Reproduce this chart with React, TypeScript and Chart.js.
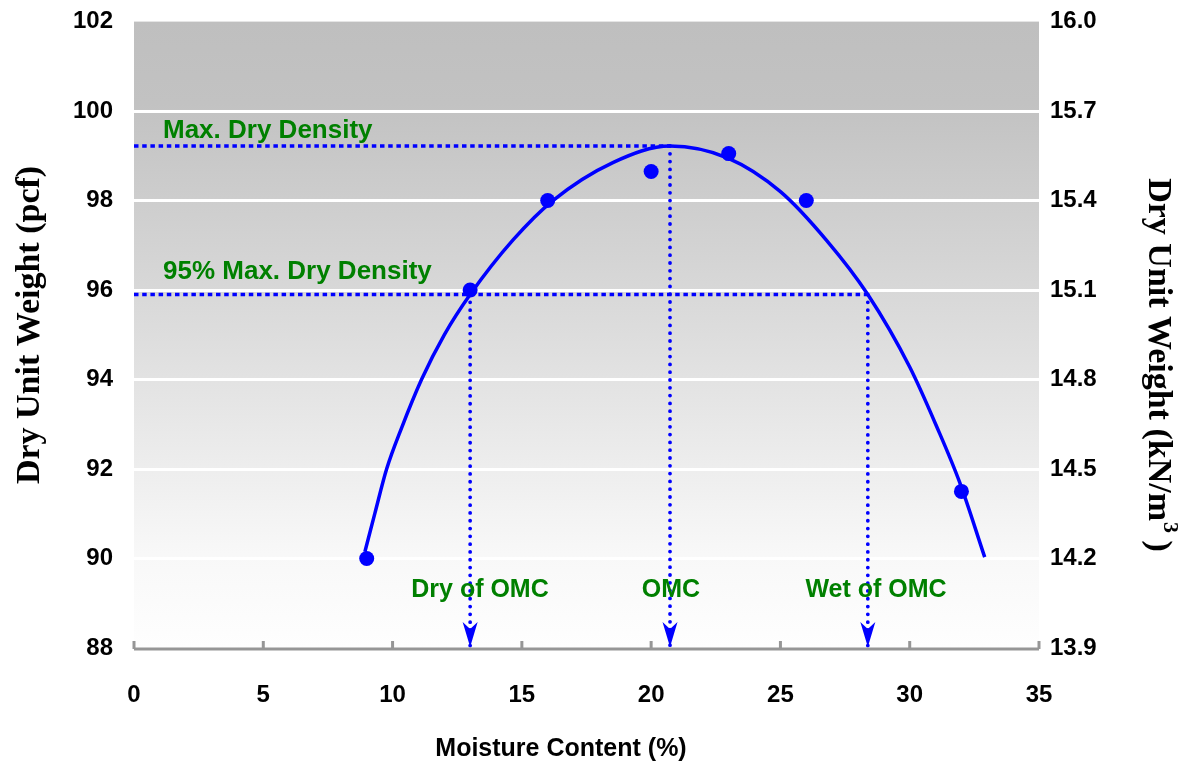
import React, { useEffect, useRef } from "react";
import { Chart, registerables } from "chart.js";
Chart.register(...registerables);

// Measured compaction test points
const moisture = [9, 13, 16, 20, 23, 26, 32];
const dryUnitWeight = [90.0, 96.0, 98.0, 98.65, 99.05, 98.0, 91.5];

// Fitted compaction curve
const fitMoisture = [8.93, 9.32, 9.77, 10.35, 11.12, 12.0, 13.0, 14.66, 16.2, 18.52, 20.73, 22.97, 25.0, 26.8, 28.38, 30.0, 31.05, 31.94, 32.9];
const fitWeight = [90.15, 91.02, 92.0, 92.92, 94.0, 95.0, 95.9, 97.12, 98.0, 98.85, 99.22, 98.95, 98.2, 97.1, 95.9, 94.28, 92.94, 91.69, 90.03];

// Reference values
const maxDryDensity = 99.22;
const omc = 20.73;
const density95 = 95.9;
const dryOfOmc = 13.0;
const wetOfOmc = 28.38;

// Axes
const xTicks = [0, 5, 10, 15, 20, 25, 30, 35];
const pcfTicks = [88, 90, 92, 94, 96, 98, 100, 102];
const knTicks = [13.9, 14.2, 14.5, 14.8, 15.1, 15.4, 15.7, 16.0];

const xTitle = "Moisture Content (%)";
const leftTitle = "Dry Unit Weight (pcf)";
const rightTitleMain = "Dry Unit Weight (kN/m";
const rightTitleSup = "3";
const rightTitleEnd = " )";

const GREEN = "#008000";
const BLUE = "#0000ff";
const SANS = '"Liberation Sans", Arial, sans-serif';
const SERIF = '"Liberation Serif", "Times New Roman", serif';

const bgPlugin = {
  id: "bg",
  beforeDraw(chart: any) {
    const { ctx, chartArea: a } = chart;
    const g = ctx.createLinearGradient(0, a.top, 0, a.bottom);
    g.addColorStop(0, "#bfbfbf");
    g.addColorStop(0.13, "#c2c2c2");
    g.addColorStop(0.5, "#dddddd");
    g.addColorStop(0.85, "#f8f8f8");
    g.addColorStop(1, "#fefefe");
    ctx.save();
    ctx.fillStyle = g;
    ctx.fillRect(a.left, a.top, a.right - a.left, a.bottom - a.top);
    ctx.restore();
  },
};

const decorPlugin = {
  id: "decor",
  afterDraw(chart: any) {
    const { ctx, chartArea: a } = chart;
    const xs = chart.scales.x;
    const ys = chart.scales.y;
    ctx.save();
    // x axis line and upward ticks
    ctx.strokeStyle = "#969696";
    ctx.lineWidth = 3;
    const by = ys.getPixelForValue(pcfTicks[0]) + 1;
    ctx.beginPath();
    ctx.moveTo(a.left, by);
    ctx.lineTo(a.right, by);
    ctx.stroke();
    xTicks.forEach((t) => {
      const px = xs.getPixelForValue(t);
      ctx.beginPath();
      ctx.moveTo(px, by);
      ctx.lineTo(px, by - 8);
      ctx.stroke();
    });
    // arrowheads
    ctx.fillStyle = BLUE;
    [dryOfOmc, omc, wetOfOmc].forEach((v) => {
      const px = xs.getPixelForValue(v);
      const tip = ys.getPixelForValue(pcfTicks[0]) - 1;
      ctx.beginPath();
      ctx.moveTo(px, tip);
      ctx.lineTo(px - 7.5, tip - 25);
      ctx.lineTo(px, tip - 18);
      ctx.lineTo(px + 7.5, tip - 25);
      ctx.closePath();
      ctx.fill();
    });
    // green annotations
    ctx.fillStyle = GREEN;
    ctx.font = `bold 26px ${SANS}`;
    ctx.textBaseline = "alphabetic";
    ctx.textAlign = "left";
    ctx.fillText("Max. Dry Density", 163, 138);
    ctx.fillText("95% Max. Dry Density", 163, 279);
    ctx.font = `bold 25px ${SANS}`;
    ctx.textAlign = "center";
    ctx.fillText("Dry of OMC", 480, 597);
    ctx.fillText("OMC", 671, 597);
    ctx.fillText("Wet of OMC", 876, 597);
    // x title
    ctx.fillStyle = "#000";
    ctx.font = `bold 25px ${SANS}`;
    ctx.textAlign = "center";
    ctx.textBaseline = "middle";
    ctx.fillText(xTitle, 561, 749);
    // left title
    ctx.save();
    ctx.translate(30, 325);
    ctx.rotate(-Math.PI / 2);
    ctx.font = `bold 34px ${SERIF}`;
    ctx.textAlign = "center";
    ctx.textBaseline = "middle";
    ctx.fillText(leftTitle, 0, 0);
    ctx.restore();
    // right title with superscript
    ctx.save();
    ctx.translate(1158, 365);
    ctx.rotate(Math.PI / 2);
    ctx.textBaseline = "middle";
    ctx.textAlign = "left";
    const mainFont = `bold 34px ${SERIF}`;
    const supFont = `bold 22px ${SERIF}`;
    ctx.font = mainFont;
    const w1 = ctx.measureText(rightTitleMain).width;
    const w3 = ctx.measureText(rightTitleEnd).width;
    ctx.font = supFont;
    const w2 = ctx.measureText(rightTitleSup).width;
    const x0 = -(w1 + w2 + w3) / 2;
    ctx.font = mainFont;
    ctx.fillText(rightTitleMain, x0, 0);
    ctx.font = supFont;
    ctx.fillText(rightTitleSup, x0 + w1 + 1, -12);
    ctx.font = mainFont;
    ctx.fillText(rightTitleEnd, x0 + w1 + w2, 0);
    ctx.restore();
    ctx.restore();
  },
};

export default function App() {
  const ref = useRef<HTMLCanvasElement>(null);
  useEffect(() => {
    if (!ref.current) return;
    const tickFont = { family: SANS, size: 24, weight: "bold" as const };
    const yTickFont = { family: SANS, size: 24, weight: "bold" as const, lineHeight: 0.05 };
    const chart = new Chart(ref.current, {
      type: "scatter",
      data: {
        datasets: [
          {
            label: "points",
            data: moisture.map((m, i) => ({ x: m, y: dryUnitWeight[i] })),
            pointRadius: 7.5,
            pointBackgroundColor: BLUE,
            pointBorderWidth: 0,
            showLine: false,
            order: 0,
          },
          {
            label: "fit",
            data: fitMoisture.map((m, i) => ({ x: m, y: fitWeight[i] })),
            showLine: true,
            pointRadius: 0,
            borderColor: BLUE,
            borderWidth: 3.5,
            cubicInterpolationMode: "monotone",
            order: 1,
          },
          {
            label: "maxLine",
            data: [{ x: 0, y: maxDryDensity }, { x: omc, y: maxDryDensity }],
            showLine: true,
            pointRadius: 0,
            borderColor: BLUE,
            borderWidth: 3.5,
            borderDash: [4.5, 3.7],
            order: 2,
          },
          {
            label: "line95",
            data: [{ x: 0, y: density95 }, { x: wetOfOmc, y: density95 }],
            showLine: true,
            pointRadius: 0,
            borderColor: BLUE,
            borderWidth: 3.5,
            borderDash: [4.5, 3.7],
            order: 2,
          },
          ...[
            { v: omc, top: maxDryDensity },
            { v: dryOfOmc, top: density95 },
            { v: wetOfOmc, top: density95 },
          ].map((d) => ({
            label: "vert",
            data: [{ x: d.v, y: d.top }, { x: d.v, y: pcfTicks[0] }],
            showLine: true,
            pointRadius: 0,
            borderColor: BLUE,
            borderWidth: 3.8,
            borderCapStyle: "round" as const,
            borderDash: [0, 7.8],
            order: 2,
          })),
        ],
      },
      options: {
        responsive: false,
        animation: false,
        layout: { padding: { top: 0, left: 0, right: 0, bottom: 0 } },
        plugins: { legend: { display: false }, tooltip: { enabled: false } },
        scales: {
          x: {
            type: "linear",
            min: xTicks[0],
            max: xTicks[xTicks.length - 1],
            afterBuildTicks: (s: any) => {
              s.ticks = xTicks.map((v) => ({ value: v }));
            },
            afterFit: (s: any) => {
              s.height = 117;
            },
            grid: { display: false },
            border: { display: false },
            ticks: { font: tickFont, color: "#000", padding: 25, maxRotation: 0 },
          },
          y: {
            type: "linear",
            position: "left",
            min: pcfTicks[0],
            max: pcfTicks[pcfTicks.length - 1],
            afterBuildTicks: (s: any) => {
              s.ticks = pcfTicks.map((v) => ({ value: v }));
            },
            afterFit: (s: any) => {
              s.width = 134;
            },
            grid: {
              drawTicks: false,
              lineWidth: 3,
              color: (c: any) =>
                c.tick && (c.tick.value === pcfTicks[0] || c.tick.value === pcfTicks[pcfTicks.length - 1])
                  ? "rgba(0,0,0,0)"
                  : "#ffffff",
            },
            border: { display: false },
            ticks: { font: yTickFont, color: "#000", padding: 21 },
          },
          y2: {
            type: "linear",
            position: "right",
            min: knTicks[0],
            max: knTicks[knTicks.length - 1],
            afterBuildTicks: (s: any) => {
              s.ticks = knTicks.map((v) => ({ value: v }));
            },
            afterFit: (s: any) => {
              s.width = 146;
            },
            grid: { drawOnChartArea: false, drawTicks: false },
            border: { display: false },
            ticks: {
              font: yTickFont,
              color: "#000",
              padding: 11,
              callback: (v: any) => Number(v).toFixed(1),
            },
          },
        },
      },
      plugins: [bgPlugin, decorPlugin],
    });
    return () => chart.destroy();
  }, []);
  return (
    <div style={{ position: "absolute", left: 0, top: 0, width: 1185, height: 765, background: "#fff" }}>
      <canvas ref={ref} width={1185} height={765} style={{ display: "block" }} />
    </div>
  );
}
